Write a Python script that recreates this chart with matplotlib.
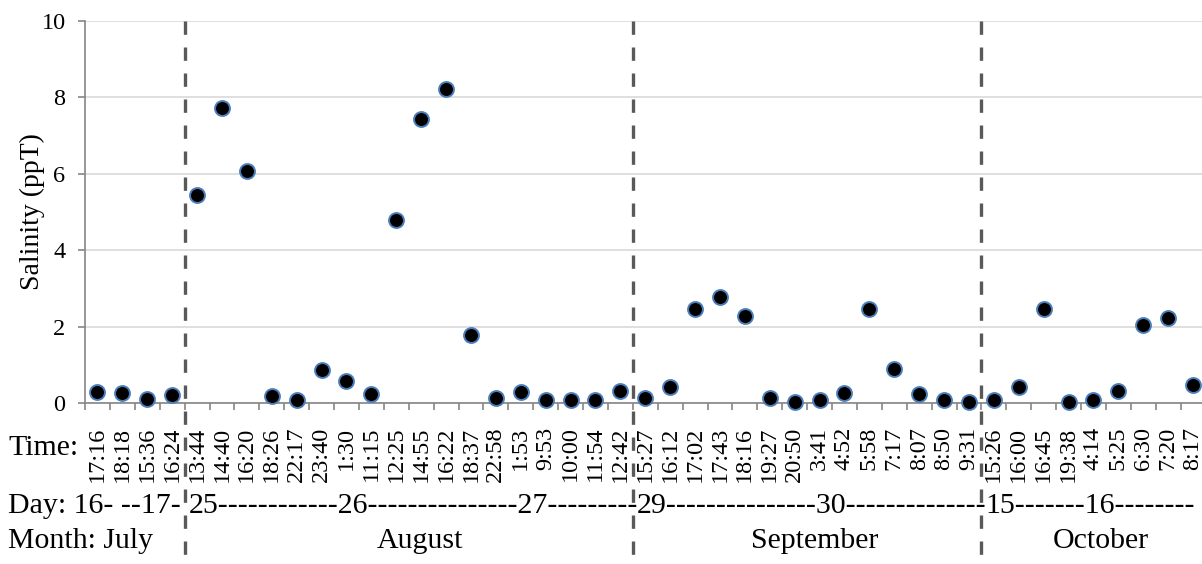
import numpy as np
import matplotlib
matplotlib.use('Agg')
import matplotlib.pyplot as plt
import matplotlib.transforms as mtransforms

plt.rcParams['font.family'] = ['Liberation Serif', 'DejaVu Serif']

# ---------------- data ----------------
times_july = ["17:16", "18:18", "15:36", "16:24"]
times_aug = ["13:44", "14:40", "16:20", "18:26", "22:17", "23:40", "1:30", "11:15",
             "12:25", "14:55", "16:22", "18:37", "22:58", "1:53", "9:53", "10:00",
             "11:54", "12:42"]
times_sep = ["15:27", "16:12", "17:02", "17:43", "18:16", "19:27", "20:50", "3:41",
             "4:52", "5:58", "7:17", "8:07", "8:50", "9:31"]
times_oct = ["15:26", "16:00", "16:45", "19:38", "4:14", "5:25", "6:30", "7:20", "8:17"]

sal_july = [0.29, 0.25, 0.10, 0.20]
sal_aug = [5.44, 7.73, 6.07, 0.19, 0.08, 0.86, 0.57, 0.24,
           4.80, 7.43, 8.21, 1.79, 0.13, 0.28, 0.08, 0.08,
           0.08, 0.32]
sal_sep = [0.13, 0.43, 2.47, 2.77, 2.27, 0.13, 0.03, 0.08,
           0.27, 2.47, 0.90, 0.24, 0.08, 0.03]
sal_oct = [0.08, 0.43, 2.47, 0.03, 0.08, 0.32, 2.03, 2.22, 0.48]

month_names = ["July", "August", "September", "October"]
day_rows = ["Day: 16- --17-",
            "25" + "-" * 12 + "26" + "-" * 15 + "27" + "-" * 9,
            "29" + "-" * 15 + "30" + "-" * 14,
            "15" + "-" * 7 + "16" + "-" * 8]

times = times_july + times_aug + times_sep + times_oct
salinity = sal_july + sal_aug + sal_sep + sal_oct
group_sizes = [len(times_july), len(times_aug), len(times_sep), len(times_oct)]

# ---------------- figure ----------------
W, H = 1202, 564
fig = plt.figure(figsize=(W / 100, H / 100), dpi=100)
n = len(times)
cat_w = 24.9
ax = fig.add_axes([85 / W, (H - 403) / H, n * cat_w / W, (403 - 21) / H])

x = np.arange(n)
ax.scatter(x, salinity, s=115, c='black', edgecolors='#4a7ebb', linewidths=1.4,
           zorder=3, clip_on=False)

ax.set_xlim(-0.5, n - 0.5)
ax.set_ylim(0, 10)
ax.set_yticks(np.arange(0, 11, 2))
ax.yaxis.grid(True, color='#d9d9d9', linewidth=1.2)
ax.set_axisbelow(True)

for s in ['top', 'right']:
    ax.spines[s].set_visible(False)
for s in ['left', 'bottom']:
    ax.spines[s].set_color('#868686')
    ax.spines[s].set_linewidth(1.2)

# boundary ticks (major) and time labels (minor)
ax.set_xticks(np.arange(-0.5, n, 1.0))
ax.set_xticklabels([])
ax.tick_params(axis='x', which='major', length=5, width=1.2, color='#868686', direction='out')
ax.set_xticks(x, labels=times, minor=True)
ax.tick_params(axis='x', which='minor', length=0, pad=17, labelsize=17.5, labelrotation=90)
for lbl in ax.get_xticklabels(minor=True):
    lbl.set_va('top')
    lbl.set_ha('center')

ax.tick_params(axis='y', length=5, width=1.2, color='#868686', labelsize=17.5, pad=9)
ax.set_ylabel("Salinity (ppT)", fontsize=20)
ax.yaxis.set_label_coords(-0.036, 0.5)

# separators
bounds = np.cumsum(group_sizes)[:-1] - 0.5
btr = mtransforms.blended_transform_factory(ax.transData, ax.transAxes)
for b in bounds:
    ax.plot([b, b], [1.0, -0.43], transform=btr, clip_on=False, color='#595959',
            linewidth=2.4, dashes=(4, 3.8), zorder=4)

# row labels
def fy(py):
    return 1 - py / H

fs_row = 21.5
fig.text(8 / W, fy(455), "Time:", fontsize=fs_row, va='baseline', ha='left')

dtr = mtransforms.blended_transform_factory(ax.transData, fig.transFigure)
off = mtransforms.ScaledTranslation(4 / 100, 0, fig.dpi_scale_trans)
fig.text(8 / W, fy(513), day_rows[0], fontsize=fs_row, va='baseline', ha='left')
for b, txt in zip(bounds, day_rows[1:]):
    fig.text(b, fy(513), txt, fontsize=fs_row, va='baseline', ha='left',
             transform=dtr + off)

fig.text(8 / W, fy(548), "Month: " + month_names[0], fontsize=fs_row, va='baseline', ha='left')
month_centers = [12.95, 28.8, 40.3]
for c, m in zip(month_centers, month_names[1:]):
    fig.text(c, fy(548), m, fontsize=fs_row, va='baseline', ha='center', transform=dtr)

fig.savefig("out.png", dpi=100)
